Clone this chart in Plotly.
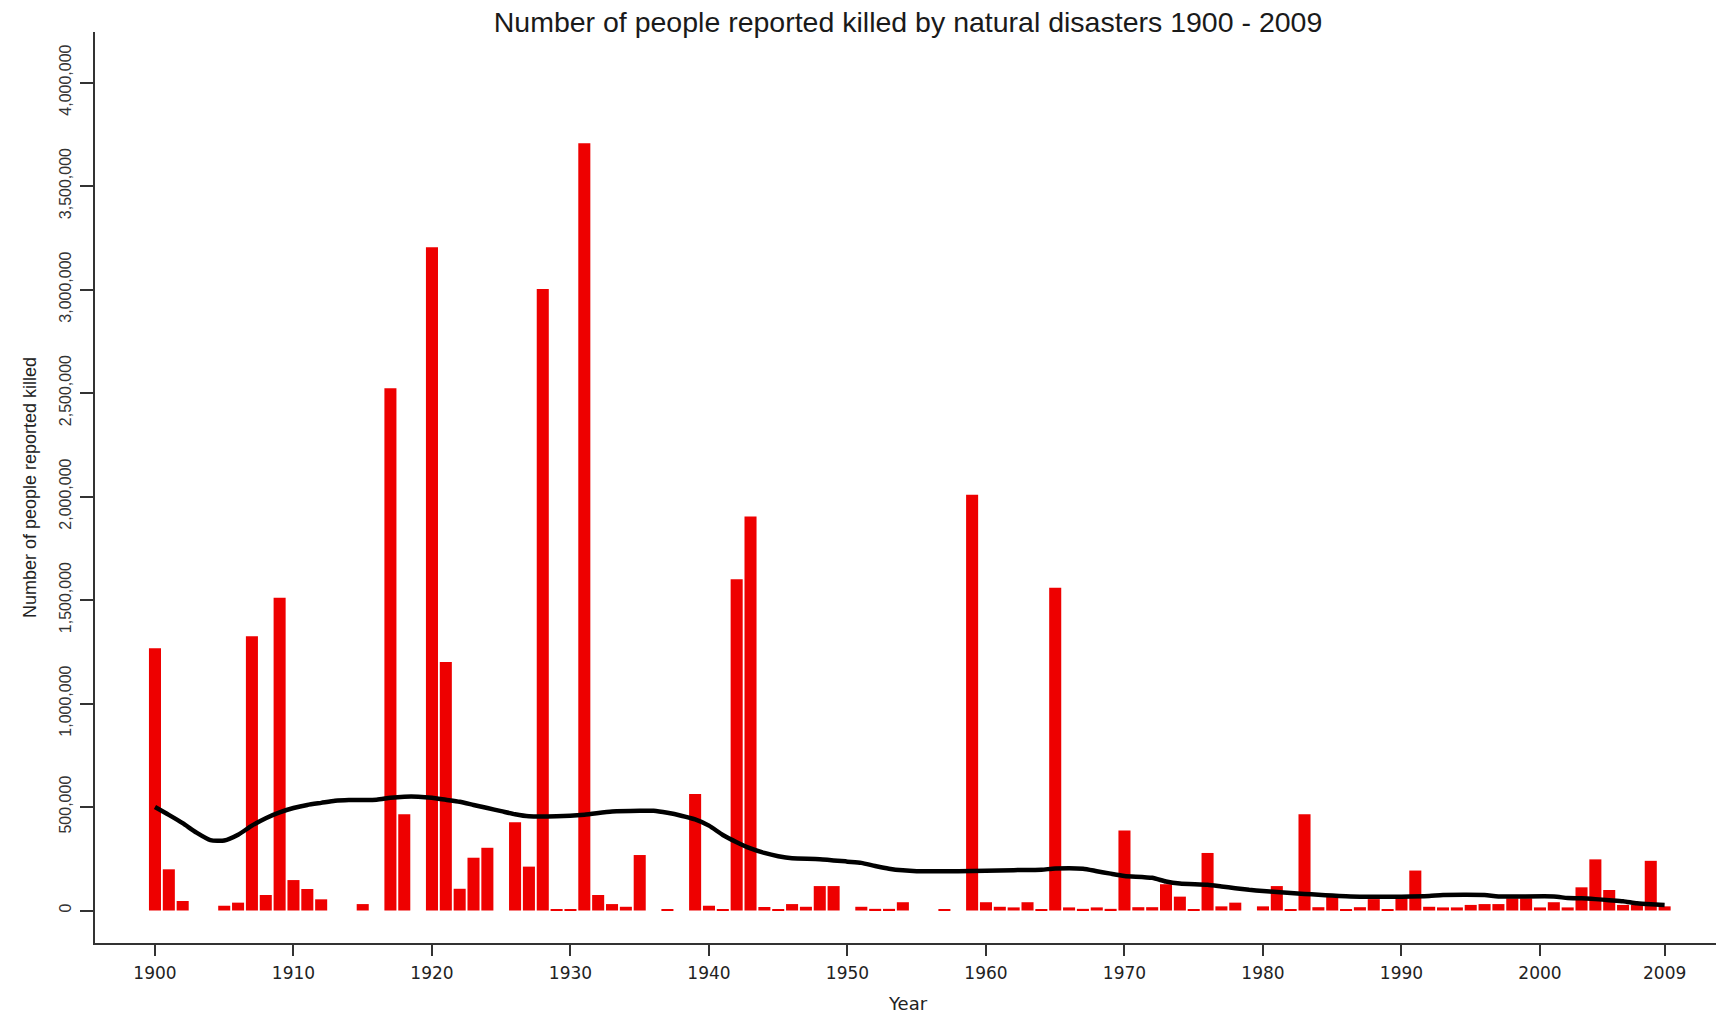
import plotly.graph_objects as go

years = list(range(1900, 2010))
killed = [
    1267000, 199000, 46000, 0, 0, 23000, 38000, 1325000, 75000, 1511000,      # 1900-1909
    147000, 104000, 54000, 0, 0, 31000, 0, 2523000, 465000, 0,                # 1910-1919
    3204000, 1200000, 105000, 255000, 303000, 0, 426000, 212000, 3003000, 5000,  # 1920-1929
    5000, 3706000, 75000, 31000, 18000, 268000, 0, 6000, 0, 563000,           # 1930-1939
    23000, 6000, 1600000, 1903000, 17000, 6000, 31000, 18000, 118000, 118000,  # 1940-1949
    0, 18000, 8000, 8000, 40000, 0, 0, 6000, 0, 2009000,                      # 1950-1959
    40000, 18000, 15000, 40000, 5000, 1559000, 15000, 8000, 15000, 8000,      # 1960-1969
    386000, 16000, 16000, 127000, 67000, 6000, 278000, 20000, 38000, 0,       # 1970-1979
    20000, 118000, 7000, 465000, 16000, 75000, 7000, 16000, 55000, 7000,      # 1980-1989
    64000, 193000, 18000, 15000, 15000, 27000, 31000, 31000, 59000, 59000,    # 1990-1999
    15000, 40000, 15000, 112000, 247000, 99000, 27000, 27000, 240000, 20000,  # 2000-2009
]

smooth_years = [1900, 1901, 1902, 1903, 1904, 1905, 1906, 1907, 1908, 1909,
                1910, 1911, 1912, 1913, 1914, 1916, 1917, 1918, 1919, 1920,
                1921, 1922, 1923, 1924, 1925, 1926, 1927, 1929, 1931, 1933,
                1935, 1936, 1937, 1938, 1939, 1940, 1941, 1942, 1943, 1944,
                1945, 1946, 1948, 1950, 1951, 1952, 1953, 1954, 1955, 1958,
                1962, 1964, 1965, 1967, 1968, 1969, 1970, 1972, 1973, 1974,
                1976, 1977, 1978, 1979, 1980, 1981, 1982, 1983, 1984, 1985,
                1986, 1987, 1990, 1992, 1993, 1996, 1997, 2001, 2002, 2003,
                2004, 2005, 2006, 2007, 2008, 2009]
smooth_vals = [500000, 462000, 422000, 376000, 340000, 338000, 366000, 410000, 446000, 474000,
               495000, 510000, 520000, 530000, 534000, 535000, 545000, 550000, 550000, 545000,
               535000, 525000, 510000, 495000, 480000, 465000, 455000, 455000, 463000, 478000,
               482000, 482000, 472000, 458000, 440000, 410000, 365000, 330000, 300000, 278000,
               262000, 252000, 248000, 236000, 230000, 215000, 202000, 194000, 190000, 190000,
               195000, 197000, 203000, 202000, 190000, 178000, 167000, 158000, 140000, 130000,
               124000, 116000, 108000, 100000, 94000, 89000, 85000, 80000, 76000, 72000,
               69000, 67000, 67000, 70000, 75000, 75000, 68000, 68000, 60000, 59000,
               55000, 50000, 45000, 35000, 30000, 27000]

x_ticks = [1900, 1910, 1920, 1930, 1940, 1950, 1960, 1970, 1980, 1990, 2000, 2009]
y_ticks = [0, 500000, 1000000, 1500000, 2000000, 2500000, 3000000, 3500000, 4000000]
y_tick_text = ["0", "500,000", "1,000,000", "1,500,000", "2,000,000", "2,500,000",
               "3,000,000", "3,500,000", "4,000,000"]

SANS = "Liberation Sans, Arial"
W, H = 1716, 1014
ML, MT, MB = 95, 32, 71
plot_h = H - MT - MB

fig = go.Figure()
fig.add_trace(go.Bar(
    x=years, y=killed,
    marker=dict(color="#ee0000", line=dict(width=0)),
    showlegend=False,
))
fig.add_trace(go.Scatter(
    x=smooth_years, y=smooth_vals, mode="lines",
    line=dict(color="black", width=4.5, shape="spline", smoothing=0.6),
    showlegend=False,
))

fig.update_layout(
    width=W, height=H,
    paper_bgcolor="white", plot_bgcolor="white",
    margin=dict(l=ML, r=0, t=MT, b=MB),
    bargap=0.13,
    title=dict(
        text="Number of people reported killed by natural disasters 1900 - 2009",
        font=dict(family=SANS, size=28.5, color="#1a1a1a"),
        x=908 / W, xref="container", xanchor="center",
        y=1 - 22 / H, yref="container", yanchor="middle",
    ),
    annotations=[dict(
        text="Year", showarrow=False,
        xref="paper", yref="paper",
        x=(908 - ML) / (W - ML), y=-(1003 - (H - MB)) / plot_h,
        xanchor="center", yanchor="middle",
        font=dict(family="DejaVu Sans", size=18, color="#222"),
    )],
)
fig.update_xaxes(
    range=[1895.67, 2012.71],
    tickmode="array", tickvals=x_ticks,
    ticks="outside", ticklen=11, tickwidth=2, tickcolor="#333",
    showline=True, linecolor="#333", linewidth=2,
    showgrid=False, zeroline=False, automargin=False,
    tickfont=dict(family="DejaVu Sans", size=17, color="#222"),
    ticklabelstandoff=3,
)
fig.update_yaxes(
    range=[-157000, 4244000],
    tickmode="array", tickvals=y_ticks, ticktext=y_tick_text,
    tickangle=-90,
    ticks="outside", ticklen=13, tickwidth=2, tickcolor="#333",
    showline=True, linecolor="#333", linewidth=2,
    showgrid=False, zeroline=False, automargin=False,
    tickfont=dict(family=SANS, size=16, color="#333"),
    ticklabelstandoff=3,
    title=dict(text="Number of people reported killed",
               font=dict(family=SANS, size=18, color="#222")),
)

fig.write_html(
    "out.html",
    config={"displayModeBar": False},
    post_script="document.body.style.margin='0';document.body.style.overflow='hidden';",
)
